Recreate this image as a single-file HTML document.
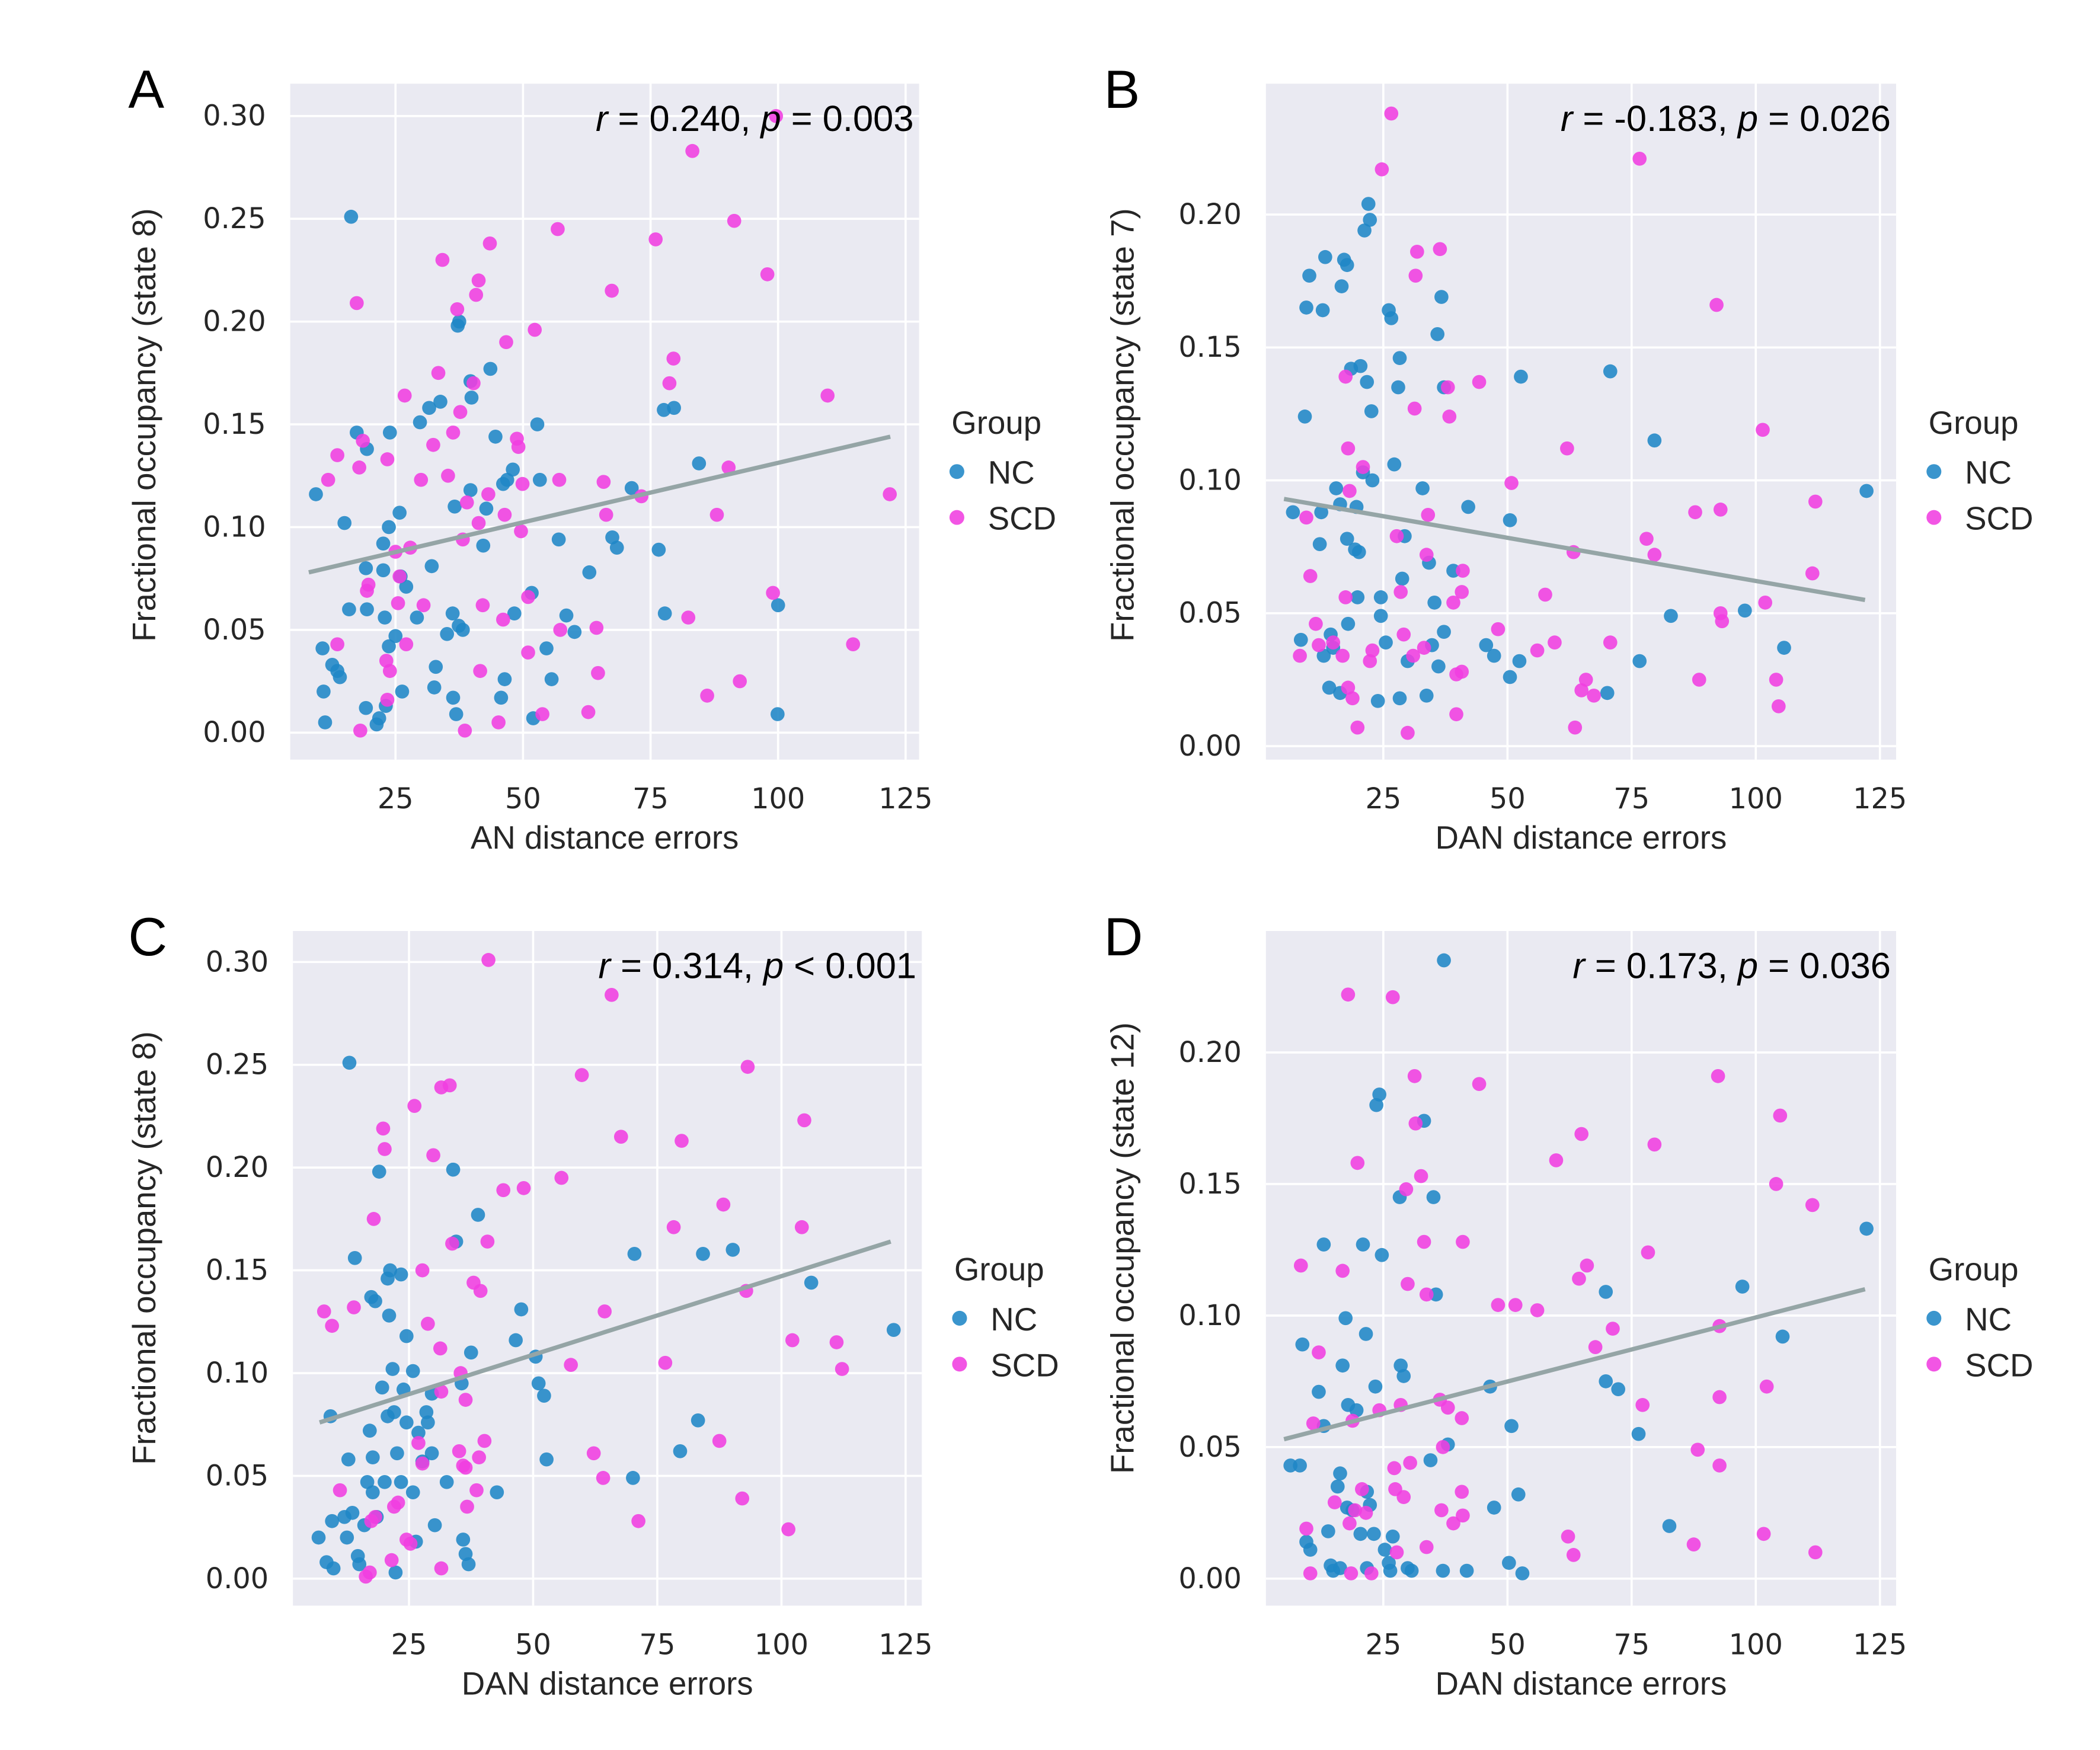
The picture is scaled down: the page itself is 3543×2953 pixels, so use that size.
<!DOCTYPE html>
<html><head><meta charset="utf-8"><style>
html,body{margin:0;padding:0;background:#fff}
svg{display:block}
text{font-family:"DejaVu Sans","Liberation Sans",sans-serif;fill:#262626}
.ann{font-family:"Liberation Sans",sans-serif;font-size:27px;fill:#000}
.lab{font-family:"Liberation Sans",sans-serif;font-size:24px}
.tick{font-size:21px}
.letter{font-family:"Liberation Sans",sans-serif;font-size:40px;fill:#000}
</style></head><body>
<svg id="fig" width="3543" height="2953" viewBox="0 0 1556 1297" xmlns="http://www.w3.org/2000/svg"></svg>
<script>
// Panel A: AN distance errors vs state 8
const aNcX=[9.4,16.3,15,17.4,19.4,10.7,12.6,13.6,14.1,10.9,11.2,19.2,21.3,21.8,23.1,19.4,15.9,19.2,22.6,22.6,23.7,25.8,23.9,26,27.1,25,23.7,22.9,29.2,26.3,29.8,31.6,33.8,32.1,32.9,32.6,36.3,36.9,35.1,36.2,37.4,38.2,36.6,37.2,37.5,39.9,39.7,43.6,39.7,42.2,42.8,44.6,46.1,46.9,48,46.4,45.7,48.3,51.7,52,53.3,52.8,54.6,55.6,57,58.5,60.1,63,67.5,68.4,71.3,76.6,77.6,79.6,77.8,84.5,100,99.9];
const aNcY=[0.116,0.251,0.102,0.146,0.138,0.041,0.033,0.030,0.027,0.020,0.005,0.012,0.004,0.007,0.013,0.060,0.060,0.080,0.079,0.092,0.100,0.107,0.146,0.076,0.071,0.047,0.042,0.056,0.056,0.020,0.151,0.158,0.161,0.081,0.032,0.022,0.017,0.009,0.048,0.058,0.052,0.050,0.110,0.198,0.200,0.163,0.171,0.177,0.118,0.091,0.109,0.144,0.121,0.123,0.128,0.026,0.017,0.058,0.068,0.007,0.123,0.150,0.041,0.026,0.094,0.057,0.049,0.078,0.095,0.090,0.119,0.089,0.157,0.158,0.058,0.131,0.062,0.009];
const aScdX=[17.4,11.8,13.6,18.6,17.9,19.4,19.7,13.6,18.1,23.4,25,25.8,25.5,23.2,23.9,23.4,26.8,27.1,27.9,30,30.5,32.4,33.4,34.2,35.3,36.3,37.1,37.7,38.2,38.6,39,40.3,40.8,41.3,41.3,41.6,42.1,43.2,43.5,46.1,45.2,46.7,46.4,48.8,49.1,49.6,49.9,51,51,52.3,53.8,56.8,57.1,57.3,62.8,64.4,64.7,65.8,67.4,66.3,73.2,76,78.7,79.5,82.4,83.2,86.1,88,90.3,91.4,92.5,97.9,99,99.6,109.7,114.7,121.9];
const aScdY=[0.209,0.123,0.135,0.142,0.129,0.069,0.072,0.043,0.001,0.133,0.088,0.076,0.063,0.035,0.030,0.016,0.164,0.043,0.090,0.123,0.062,0.140,0.175,0.230,0.125,0.146,0.206,0.156,0.094,0.001,0.112,0.170,0.213,0.220,0.102,0.030,0.062,0.116,0.238,0.055,0.005,0.190,0.106,0.143,0.139,0.098,0.121,0.039,0.066,0.196,0.009,0.245,0.123,0.050,0.010,0.051,0.029,0.122,0.215,0.106,0.115,0.240,0.170,0.182,0.056,0.283,0.018,0.106,0.129,0.249,0.025,0.223,0.068,0.300,0.164,0.043,0.116];
const aFitX=[8,122], aFitY=[0.078,0.144];
// Panel B: DAN distance errors vs state 7
const bNcX=[6.8,8.4,9.2,9.5,10.1,12.2,12.5,12.8,13.3,13,14.4,14.9,14.1,15.5,16.3,16.3,16.6,17.1,17.7,17.9,17.7,18.5,19.3,19.6,19.8,20.1,20.4,20.9,21.2,22,22.3,21.7,22.6,22.8,23.9,24.5,24.5,25.5,26.1,26.6,27.2,28,28.3,28.3,28.8,29.3,29.9,32.9,33.7,34.2,34.8,35.3,35.9,36.1,36.7,37.2,37.2,39.1,42.1,45.7,47.3,50.5,50.5,52.4,52.7,70.1,70.7,76.6,79.6,82.9,97.8,105.7,122.3];
const bNcY=[0.088,0.040,0.124,0.165,0.177,0.076,0.088,0.164,0.184,0.034,0.042,0.037,0.022,0.097,0.091,0.020,0.173,0.183,0.078,0.046,0.181,0.142,0.074,0.090,0.056,0.073,0.143,0.103,0.194,0.204,0.198,0.137,0.126,0.100,0.017,0.056,0.049,0.039,0.164,0.161,0.106,0.135,0.146,0.018,0.063,0.079,0.032,0.097,0.019,0.069,0.038,0.054,0.155,0.030,0.169,0.043,0.135,0.066,0.090,0.038,0.034,0.085,0.026,0.032,0.139,0.020,0.141,0.032,0.115,0.049,0.051,0.037,0.096];
const bScdX=[8.2,9.5,10.3,11.4,12,14.9,16.8,17.4,17.9,17.4,17.9,18.8,18.2,19.8,20.9,22.3,22.8,24.7,26.6,27.7,28.5,29.9,29.1,31,31.3,31.5,31.8,33.2,34,33.7,36.4,38,38.3,39.1,39.7,39.7,40.8,40.8,41,44.3,48.1,50.8,56,57.6,59.5,62,63.3,63.6,64.9,65.8,67.4,70.7,78,79.6,76.6,87.8,88.6,92.1,92.9,92.9,93.2,101.4,101.9,104.1,104.6,111.4,112];
const bScdY=[0.034,0.086,0.064,0.046,0.038,0.039,0.034,0.139,0.112,0.056,0.022,0.018,0.096,0.007,0.105,0.032,0.036,0.217,0.238,0.079,0.058,0.005,0.042,0.034,0.127,0.177,0.186,0.037,0.087,0.072,0.187,0.135,0.124,0.054,0.027,0.012,0.058,0.028,0.066,0.137,0.044,0.099,0.036,0.057,0.039,0.112,0.073,0.007,0.021,0.025,0.019,0.039,0.078,0.072,0.221,0.088,0.025,0.166,0.089,0.050,0.047,0.119,0.054,0.025,0.015,0.065,0.092];
const bFitX=[5,122], bFitY=[0.093,0.055];
// Panel C: DAN distance errors vs state 8
const cNcX=[6.8,8.4,9.5,9.8,9.2,12,12.8,13.6,14.7,15,12.5,13,14.1,16,16.6,17.1,17.4,18.2,17.7,17.7,18.5,19,19.6,20.1,20.7,20.7,21.2,21,21.7,22.3,22,23.4,22.6,23.4,23.9,24.5,24.5,25.8,25.8,26.4,26.9,27.7,28.5,28.8,29.6,30.2,29.6,32.6,33.9,34.5,35.6,35.9,36.4,37,37.5,38.9,42.7,46.5,47.6,50.5,51.1,52.2,52.7,70.4,70.1,84.2,79.6,83.2,90.2,106,122.6];
const cNcY=[0.020,0.008,0.028,0.005,0.079,0.030,0.058,0.032,0.011,0.007,0.020,0.251,0.156,0.026,0.047,0.072,0.137,0.135,0.059,0.042,0.030,0.198,0.093,0.047,0.079,0.146,0.150,0.128,0.102,0.003,0.081,0.148,0.061,0.047,0.092,0.118,0.076,0.101,0.042,0.018,0.071,0.057,0.081,0.076,0.061,0.026,0.090,0.047,0.199,0.164,0.095,0.019,0.012,0.007,0.110,0.177,0.042,0.116,0.131,0.108,0.095,0.089,0.058,0.158,0.049,0.158,0.062,0.077,0.160,0.144,0.121];
const cScdX=[7.9,9.5,11.1,13.9,16.3,17.1,17.9,17.4,18.2,19.8,20.1,21.5,22,22.8,24.5,25.3,26.1,26.9,27.7,27.7,28.8,29.9,31.3,31.5,31.5,33.2,31.5,33.7,35.1,35.4,35.9,36.4,36.4,36.7,38,38.6,39.4,39.1,40.2,41,40.8,44,48.1,55.7,57.6,59.8,62.2,64.1,64.4,65.8,67.7,76.6,78.3,79.9,71.2,87.5,88.3,92.1,92.9,93.2,101.4,102.2,104.1,104.6,111.1,112.2];
const cScdY=[0.130,0.123,0.043,0.132,0.001,0.003,0.175,0.028,0.030,0.219,0.209,0.009,0.035,0.037,0.019,0.017,0.230,0.066,0.150,0.056,0.124,0.206,0.112,0.091,0.239,0.240,0.005,0.163,0.062,0.100,0.055,0.054,0.087,0.035,0.144,0.043,0.140,0.059,0.067,0.301,0.164,0.189,0.190,0.195,0.104,0.245,0.061,0.049,0.130,0.284,0.215,0.105,0.171,0.213,0.028,0.067,0.182,0.039,0.140,0.249,0.024,0.116,0.171,0.223,0.115,0.102];
const cFitX=[7,122], cFitY=[0.076,0.164];
// Panel D: DAN distance errors vs state 12
const dNcX=[6.3,8.2,8.7,9.5,10.3,12,13,13,13.9,14.4,14.9,15.8,16.3,16.3,16.8,17.4,17.7,17.9,18.8,19.6,20.4,20.9,21.5,21.7,21.7,22.3,23.1,23.4,23.6,24.2,24.7,25.3,26.1,26.4,26.9,28.3,28.5,29.1,29.9,30.7,33.2,34.5,35.1,35.6,37.2,37,38,41.8,46.5,47.3,50.8,50.3,52.2,53,69.8,69.8,72.3,76.4,82.6,97.3,105.4,122.3];
const dNcY=[0.043,0.043,0.089,0.014,0.011,0.071,0.127,0.058,0.018,0.005,0.003,0.035,0.040,0.004,0.081,0.099,0.027,0.066,0.026,0.064,0.017,0.127,0.093,0.004,0.033,0.028,0.017,0.073,0.180,0.184,0.123,0.011,0.006,0.003,0.016,0.145,0.081,0.077,0.004,0.003,0.174,0.045,0.145,0.108,0.235,0.003,0.051,0.003,0.073,0.027,0.058,0.006,0.032,0.002,0.109,0.075,0.072,0.055,0.020,0.111,0.092,0.133];
const dScdX=[8.4,9.5,10.3,10.9,12,15.2,16.8,17.9,18.2,18.5,18.8,19.3,19.8,20.7,21.5,22.6,24.2,26.9,27.2,27.4,27.7,28.5,29.1,29.6,29.9,30.4,31.3,31.5,32.6,33.2,33.7,33.7,36.4,36.7,37,38,39.1,40.8,40.8,41,41,44.3,48.1,51.6,56,59.8,62.2,63.3,64.4,64.9,66,67.7,71.2,78.3,77.2,79.6,88.3,87.5,92.4,92.7,92.7,92.7,101.6,102.2,104.1,104.9,111.4,112];
const dScdY=[0.119,0.019,0.002,0.059,0.086,0.029,0.117,0.222,0.021,0.002,0.060,0.026,0.158,0.034,0.025,0.002,0.064,0.221,0.042,0.034,0.010,0.066,0.031,0.148,0.112,0.044,0.191,0.173,0.153,0.128,0.108,0.012,0.068,0.026,0.050,0.065,0.021,0.061,0.033,0.024,0.128,0.188,0.104,0.104,0.102,0.159,0.016,0.009,0.114,0.169,0.119,0.088,0.095,0.124,0.066,0.165,0.049,0.013,0.191,0.096,0.043,0.069,0.017,0.073,0.150,0.176,0.142,0.010];
const dFitX=[5,122], dFitY=[0.053,0.110];

const xTicks=[25,50,75,100,125];
const yTicks08=[0,0.05,0.10,0.15,0.20,0.25,0.30];
const yTicks02=[0,0.05,0.10,0.15,0.20];

const NS='http://www.w3.org/2000/svg';
const svg=document.getElementById('fig');
function mk(tag,attrs,parent){const e=document.createElementNS(NS,tag);for(const k in attrs)e.setAttribute(k,attrs[k]);(parent||svg).appendChild(e);return e;}

const panels=[
 {id:'a',letter:'A',box:[215,62,681,563],x25:293,x125:671,y0:543,yTop:86,yTopVal:0.30,yt:yTicks08,xl:'AN distance errors',yl:'Fractional occupancy (state 8)',ann:['0.240','= 0.003'],ncX:aNcX,ncY:aNcY,scX:aScdX,scY:aScdY,fx:aFitX,fy:aFitY,leg:705,lx:107,lyc:315},
 {id:'b',letter:'B',box:[938,62,1405,563],x25:1025,x125:1393,y0:553,yTop:159,yTopVal:0.20,yt:yTicks02,xl:'DAN distance errors',yl:'Fractional occupancy (state 7)',ann:['-0.183','= 0.026'],ncX:bNcX,ncY:bNcY,scX:bScdX,scY:bScdY,fx:bFitX,fy:bFitY,leg:1429,lx:832,lyc:315},
 {id:'c',letter:'C',box:[217,690,683,1190],x25:303,x125:671,y0:1170,yTop:713,yTopVal:0.30,yt:yTicks08,xl:'DAN distance errors',yl:'Fractional occupancy (state 8)',ann:['0.314','< 0.001'],ncX:cNcX,ncY:cNcY,scX:cScdX,scY:cScdY,fx:cFitX,fy:cFitY,leg:707,lx:107,lyc:925},
 {id:'d',letter:'D',box:[938,690,1405,1190],x25:1025,x125:1393,y0:1170,yTop:780,yTopVal:0.20,yt:yTicks02,xl:'DAN distance errors',yl:'Fractional occupancy (state 12)',ann:['0.173','= 0.036'],ncX:dNcX,ncY:dNcY,scX:dScdX,scY:dScdY,fx:dFitX,fy:dFitY,leg:1429,lx:832,lyc:925}
];

panels.forEach(p=>{
 const [x0,y0b,x1,y1b]=p.box;
 const sx=v=>p.x25+(v-25)*(p.x125-p.x25)/100;
 const sy=v=>p.y0-v*(p.y0-p.yTop)/p.yTopVal;
 const g=mk('g',{});
 
 
 const bg=mk('rect',{x:x0,y:y0b,width:x1-x0,height:y1b-y0b,fill:'#eaeaf2'},g);
 
 
 xTicks.forEach(t=>{
  const l=mk('line',{x1:sx(t),x2:sx(t),y1:y0b,y2:y1b,stroke:'#fff','stroke-width':1.6},g);
  
  
  const tx=mk('text',{x:sx(t),y:y1b+36,'text-anchor':'middle',class:'tick'},g);
  tx.textContent=t;
  
  
 });
 p.yt.forEach(t=>{
  const l=mk('line',{x1:x0,x2:x1,y1:sy(t),y2:sy(t),stroke:'#fff','stroke-width':1.6},g);
  
  
  const tx=mk('text',{x:x0-18,y:sy(t)+7,'text-anchor':'end',class:'tick'},g);
  tx.textContent=t.toFixed(2);
  
  
 });
 const drawPts=(X,Y,col,name)=>{
  X.forEach((v,i)=>{
   const c=mk('circle',{cx:sx(v),cy:sy(Y[i]),r:5.2,fill:col,'fill-opacity':0.88},g);
   
   
  });
 };
 drawPts(p.ncX,p.ncY,'#1f86c6','nc-point');
 drawPts(p.scX,p.scY,'#f03ee0','scd-point');
 const fl=mk('line',{x1:sx(p.fx[0]),y1:sy(p.fy[0]),x2:sx(p.fx[1]),y2:sy(p.fy[1]),stroke:'#95a5a6','stroke-width':3.2},g);
 
 
 const an=mk('text',{x:x1-4,y:y0b+35,'text-anchor':'end',class:'ann'},g);
 an.innerHTML='<tspan font-style="italic">r</tspan> = '+p.ann[0]+', <tspan font-style="italic">p</tspan> '+p.ann[1];
 
 
 const xl=mk('text',{x:(x0+x1)/2,y:y1b+66,'text-anchor':'middle',class:'lab'},g);
 xl.textContent=p.xl;
 
 
 const yl=mk('text',{x:0,y:0,'text-anchor':'middle',class:'lab',transform:'translate('+(p.lx+8)+','+p.lyc+') rotate(-90)'},g);
 yl.textContent=p.yl;
 
 
 const le=mk('text',{x:p.id==='c'||p.id==='a'?95:818,y:y0b+18,class:'letter'},g);
 le.textContent=p.letter;
 
 
 const lg=mk('g',{},g);
 
 
 const ly=(p.box[1]+p.box[3])/2;
 const gt=mk('text',{x:p.leg,y:ly+9,class:'lab'},lg);
 gt.textContent='Group';
 
 
 [['NC','#1f86c6',37],['SCD','#f03ee0',71]].forEach(e=>{
  const c=mk('circle',{cx:p.leg+4,cy:ly+e[2],r:5.5,fill:e[1],'fill-opacity':0.88},lg);
  
  
  const t=mk('text',{x:p.leg+27,y:ly+e[2]+9,class:'lab'},lg);
  t.textContent=e[0];
  
  
 });
});
</script>
</body></html>
